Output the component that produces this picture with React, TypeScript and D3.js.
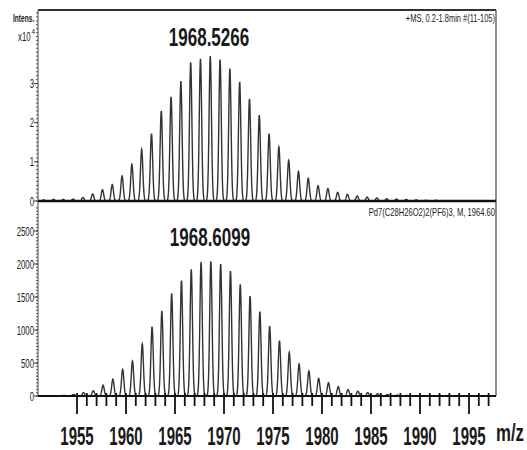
import * as React from "react";
import * as d3 from "d3";

// peak apex heights (top panel in x10^4 counts, bottom in counts)
const topStart = 1951.6;
const topHeights = [
  0.03, 0.04, 0.04, 0.05, 0.09, 0.18, 0.29, 0.42, 0.64, 0.94, 1.32, 1.72, 2.3,
  2.66, 3.06, 3.54, 3.63, 3.7, 3.61, 3.38, 3.04, 2.61, 2.19, 1.72, 1.38, 1.04,
  0.75, 0.58, 0.39, 0.32, 0.22, 0.17, 0.13, 0.1, 0.08, 0.06, 0.05, 0.04, 0.03,
  0.02, 0.02, 0.01,
];

const bottomStart = 1953.66;
const bottomHeights = [
  10, 25, 50, 80, 165, 255, 405, 530, 790, 1050, 1288, 1556, 1747, 1920, 2030,
  2040, 2000, 1894, 1692, 1515, 1277, 1060, 838, 662, 485, 379, 268, 200, 141,
  100, 72, 52, 35, 22, 14, 9, 6, 4,
];

const topTicks = [0, 1, 2, 3];
const bottomTicks = [0, 500, 1000, 1500, 2000, 2500];
const xLabels = [1955, 1960, 1965, 1970, 1975, 1980, 1985, 1990, 1995];

const topTitle = "1968.5266";
const bottomTitle = "1968.6099";
const topNote = "+MS, 0.2-1.8min #(11-105)";
const bottomNote = "Pd7(C28H26O2)2(PF6)3, M, 1964.60";

const width = 527;
const height = 450;
const left = 38;
const right = 496;
const font = "'Liberation Sans', Arial, sans-serif";

const x = d3.scaleLinear().domain([1955, 1995]).range([77, 469]);
const yTop = d3.scaleLinear().domain([0, 3]).range([201, 83.5]);
const yBot = d3.scaleLinear().domain([0, 2500]).range([396, 231]);

const sigma = 0.12;
const grid = d3.range(x.invert(left), x.invert(right), 0.02);

const profile = (start: number, heights: number[]) =>
  grid.map((m) => {
    let v = 0;
    heights.forEach((h, i) => {
      const d = m - (start + i);
      if (Math.abs(d) < 0.6) v += h * Math.exp((-d * d) / (2 * sigma * sigma));
    });
    return [m, v] as [number, number];
  });

const Panel = ({ pts, y }: { pts: [number, number][]; y: d3.ScaleLinear<number, number> }) => {
  const line = d3
    .line<[number, number]>()
    .x((d) => x(d[0]))
    .y((d) => y(d[1]));
  return <path d={line(pts) || ""} fill="none" stroke="#333" strokeWidth={1.4} />;
};

// narrow text: horizontally squeezed like the scanned original
const NText = ({ x, y, sx, size, bold, anchor, children }: any) => (
  <text
    transform={`translate(${x},${y}) scale(${sx},1)`}
    textAnchor={anchor || "start"}
    fontSize={size}
    fontWeight={bold ? "bold" : "normal"}
    fill="#1a1a1a"
  >
    {children}
  </text>
);

export default function App() {
  const topPts = profile(topStart, topHeights);
  const botPts = profile(bottomStart, bottomHeights);
  const topMinor = d3.range(0, 4.85, 0.1);
  const botMinor = d3.range(0, 2900, 50);
  const xMinor = d3.range(1955, 1998, 1);

  return (
    <svg
      width={width}
      height={height}
      style={{ position: "absolute", left: 0, top: 0, background: "#fff" }}
      fontFamily={font}
    >
      {/* frame */}
      <line x1={left} x2={right} y1={10} y2={10} stroke="#333" strokeWidth={2} />
      <line x1={right} x2={right} y1={10} y2={396} stroke="#555" strokeWidth={1.3} />
      <line x1={left} x2={left} y1={10} y2={396} stroke="#444" strokeWidth={1} />

      {/* y minor ticks */}
      {topMinor.map((v, i) => (
        <line key={"tm" + i} x1={left - 2} x2={left} y1={yTop(v)} y2={yTop(v)} stroke="#555" strokeWidth={1} />
      ))}
      {botMinor.map((v, i) => (
        <line key={"bm" + i} x1={left - 2} x2={left} y1={yBot(v)} y2={yBot(v)} stroke="#555" strokeWidth={1} />
      ))}

      {/* y labels */}
      {topTicks.map((t) => (
        <g key={"tt" + t}>
          <line x1={left - 4} x2={left} y1={yTop(t)} y2={yTop(t)} stroke="#333" />
          <NText x={left - 4} y={yTop(t) + 4.5} sx={0.65} size={12} anchor="end">{t}</NText>
        </g>
      ))}
      {bottomTicks.map((t) => (
        <g key={"bt" + t}>
          <line x1={left - 4} x2={left} y1={yBot(t)} y2={yBot(t)} stroke="#333" />
          <NText x={left - 4} y={yBot(t) + 4.5} sx={0.65} size={12} anchor="end">{t}</NText>
        </g>
      ))}
      <NText x={13} y={22} sx={0.6} size={11} bold>Intens.</NText>
      <NText x={18} y={41} sx={0.65} size={12}>x10</NText>
      <NText x={31.5} y={34} sx={0.8} size={8}>4</NText>

      {/* spectra */}
      <Panel pts={topPts} y={yTop} />
      <Panel pts={botPts} y={yBot} />

      {/* baselines */}
      <line x1={left} x2={right} y1={yTop(0)} y2={yTop(0)} stroke="#111" strokeWidth={2.5} />
      <line x1={left} x2={right} y1={yBot(0)} y2={yBot(0)} stroke="#111" strokeWidth={2} />

      {/* x ticks */}
      {xMinor.map((v) => (
        <line key={"x" + v} x1={x(v)} x2={x(v)} y1={yBot(0) - 3}
          y2={yBot(0) + (v % 5 === 0 ? 18 : 10)} stroke="#111" strokeWidth={1.8} />
      ))}
      {xLabels.map((v) => (
        <NText key={"xl" + v} x={x(v)} y={445} sx={0.6} size={25} bold anchor="middle">{v}</NText>
      ))}
      <NText x={510} y={441} sx={0.7} size={24} bold anchor="middle">m/z</NText>

      {/* titles */}
      <NText x={209} y={46} sx={0.68} size={25} bold anchor="middle">{topTitle}</NText>
      <NText x={210} y={246} sx={0.68} size={25} bold anchor="middle">{bottomTitle}</NText>

      {/* notes */}
      <NText x={right - 1} y={22} sx={0.75} size={10} anchor="end">{topNote}</NText>
      <NText x={right - 1} y={216} sx={0.76} size={10} anchor="end">{bottomNote}</NText>
    </svg>
  );
}
